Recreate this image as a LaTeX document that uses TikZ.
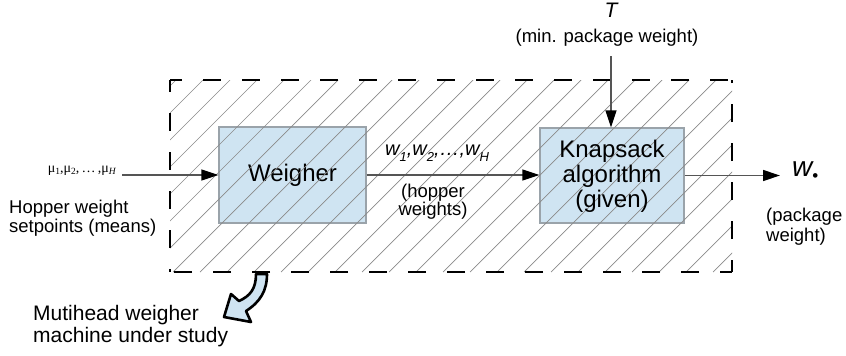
\documentclass[tikz,border=0pt]{standalone}
\usepackage{fontspec}
\setmainfont{Liberation Sans}
\newfontfamily\seriffont{Liberation Serif}
\usetikzlibrary{arrows.meta}
\definecolor{boxblue}{HTML}{CFE4F2}
\definecolor{boxedge}{HTML}{9AA3AA}
\definecolor{linegray}{HTML}{555555}
\definecolor{hatchgray}{HTML}{8A8A8A}
\newcommand{\fs}[1]{\fontsize{#1}{#1}\selectfont}
\newcommand{\lowsub}[1]{\raisebox{-6pt}{\fs{13}\itshape #1}}
\tikzset{
  blockbox/.style={draw=boxedge, line width=1.2pt, fill=boxblue, inner sep=0pt, align=center, font=\fs{24}},
  arr/.style={draw=linegray, line width=1.3pt, -{Triangle[length=17pt,width=11pt,color=black]}},
  lbl/.style={inner sep=0pt, font=\fs{18.5}},
  hatch/.style={draw=hatchgray, line width=0.7pt},
  dashside/.style={draw=black, line width=2pt, dash pattern=on 18pt off 21pt, dash phase=6pt}
}
\begin{document}
\begin{tikzpicture}[x=1pt,y=-1pt]
\useasboundingbox (0,0) rectangle (846,356);
% boxes
\node[blockbox, minimum width=147pt, minimum height=96pt] (weigher) at (292.5,175) {Weigher};
\node[blockbox, minimum width=144pt, minimum height=95pt, text depth=0pt] (knap) at (612,175.5) {};
% hatching
\begin{scope}
  \clip (170,80) rectangle (732,272);
  \foreach \k in {-3,...,26} {
    \pgfmathsetmacro{\c}{310+27*\k}
    \draw[hatch] (\c-272,272) -- (\c-80,80);
  }
\end{scope}
% knapsack text
\node[lbl, font=\fs{24}, anchor=base] at (612,157) {Knapsack};
\node[lbl, font=\fs{24}, anchor=base] at (612,182.5) {algorithm};
\node[lbl, font=\fs{24}, anchor=base] at (612,207.5) {(given)};
% dashed frame
\draw[dashside] (170,80) -- (732,80);
\draw[dashside] (170,80) -- (170,272);
\draw[dashside] (732,272) -- (170,272);
\draw[dashside] (732,272) -- (732,80);
% coordinates
\coordinate (inpt) at (122,175);
\coordinate (tstart) at (611,56);
\coordinate (outend) at (780,175.5);
% arrows
\draw[arr] (inpt) -- (weigher.west);
\draw[arr] (weigher.east) -- (weigher.east -| knap.west);
\draw[arr] (tstart) -- (tstart |- knap.north);
\draw[arr] (knap.east) -- (outend);
% labels
\node[inner sep=0pt, anchor=base east, font=\seriffont\fs{14}] (mu) at (116,172)
  {μ\raisebox{-2.5pt}{\fs{9.5}1},μ\raisebox{-2.5pt}{\fs{9.5}2},\,…\,,μ\raisebox{-2.5pt}{\fs{9.5}\itshape H}};
\node[lbl, anchor=base west] (hw1) at (9,213) {Hopper weight};
\node[lbl, anchor=base west] (hw2) at (9,232) {setpoints (means)};
\node[inner sep=0pt, anchor=base west, font=\fs{20}] (wlist) at (385,155)
  {\itshape w\lowsub{1},w\lowsub{2},…,w\lowsub{H}};
\node[lbl, anchor=base] (hp1) at (433,197) {(hopper};
\node[lbl, anchor=base] (hp2) at (433,215) {weights)};
\node[inner sep=0pt, anchor=base, font=\fs{21}\itshape] (tlab) at (611,17) {T};
\node[lbl, anchor=base] (tmin) at (607,42) {(min. package weight)};
\node[inner sep=0pt, anchor=base west, font=\fs{28}] (wout) at (792,176)
  {\itshape w\raisebox{-5pt}{\fs{17}\upshape •}};
\node[lbl, anchor=base west] (pw1) at (766,221) {(package};
\node[lbl, anchor=base west] (pw2) at (766,241) {weight)};
\node[inner sep=0pt, anchor=base west, font=\fs{21}] (mh1) at (33,320) {Mutihead weigher};
\node[inner sep=0pt, anchor=base west, font=\fs{21}] (mh2) at (33,342) {machine under study};
% curved block arrow
\draw[fill=boxblue, draw=black, line width=2.6pt, line join=round]
  (256,274) .. controls (256,289) and (250,296) .. (239,301)
  -- (231,294) -- (224,317) -- (251,322) -- (246,311)
  .. controls (260,302) and (267,291) .. (267,274) -- cycle;
\end{tikzpicture}
\end{document}
